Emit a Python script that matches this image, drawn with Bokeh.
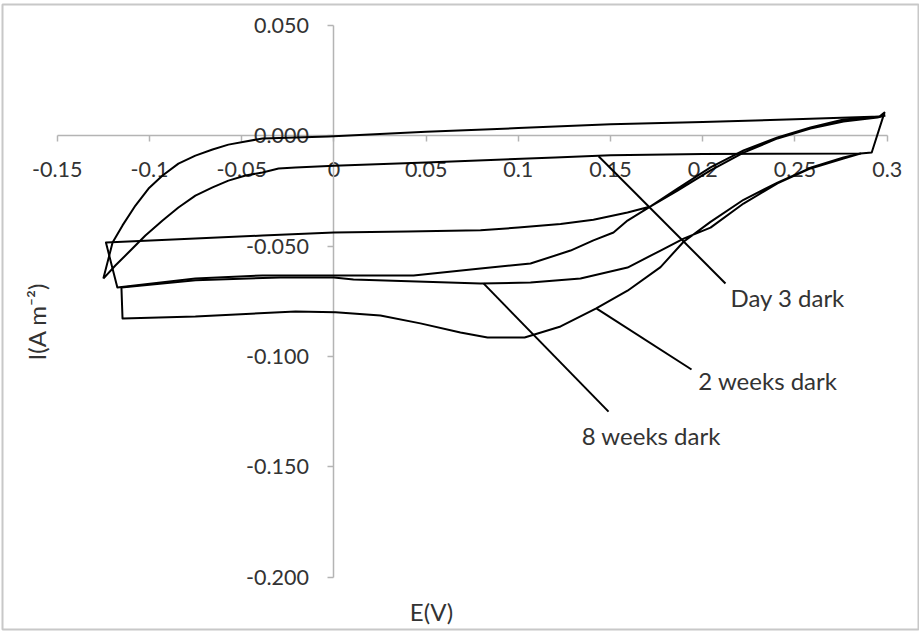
import math
from bokeh.plotting import figure
from bokeh.models import FixedTicker, Label
from bokeh.embed import file_html
from bokeh.resources import INLINE

# ---------------- data (E in V, I in A m-2) ----------------
e_day3 = [-0.1250, -0.1200, -0.1146, -0.1076, -0.1005, -0.0929, -0.0843, -0.0751, -0.0658,
          -0.0572, -0.0479, -0.0387, -0.0208, -0.0029, 0.0500, 0.1000, 0.1500, 0.2000,
          0.2500, 0.2960, 0.2985, 0.2916, 0.2855, 0.2000, 0.1500, 0.1200, 0.0500, 0.0000,
          -0.0208, -0.0300, -0.0387, -0.0479, -0.0572, -0.0658, -0.0751, -0.0843, -0.0929,
          -0.1022, -0.1114, -0.1185, -0.1250]
i_day3 = [-0.0647, -0.0484, -0.0406, -0.0316, -0.0239, -0.0180, -0.0126, -0.0090, -0.0062,
          -0.0040, -0.0026, -0.0012, -0.0008, -0.0003, 0.0018, 0.0035, 0.0052, 0.0063,
          0.0075, 0.0088, 0.0105, -0.0076, -0.0080, -0.0082, -0.0088, -0.0098, -0.0121, -0.0136,
          -0.0144, -0.0148, -0.0166, -0.0180, -0.0203, -0.0234, -0.0271, -0.0325, -0.0384,
          -0.0452, -0.0529, -0.0588, -0.0647]

e_2wk = [0.2990, 0.2947, 0.2763, 0.2584, 0.2405, 0.2221, 0.2042, 0.1863, 0.1717, 0.1592,
         0.1407, 0.1229, 0.1000, 0.0795, 0.0400, 0.0000, -0.0387, -0.0751, -0.1236, -0.1174,
         -0.0751, -0.0387, 0.0000, 0.0432, 0.0795, 0.1066, 0.1283, 0.1407, 0.1516, 0.1592,
         0.1717, 0.1863, 0.2042, 0.2221, 0.2405, 0.2584, 0.2763, 0.2964, 0.2990]
i_2wk = [0.0092, 0.0083, 0.0065, 0.0033, -0.0012, -0.0076, -0.0157, -0.0248, -0.0320, -0.0348,
         -0.0380, -0.0400, -0.0416, -0.0428, -0.0434, -0.0438, -0.0452, -0.0465, -0.0484, -0.0688,
         -0.0647, -0.0633, -0.0633, -0.0633, -0.0601, -0.0579, -0.0520, -0.0474, -0.0438, -0.0384,
         -0.0320, -0.0239, -0.0143, -0.0066, -0.0007, 0.0038, 0.0074, 0.0087, 0.0092]

e_8wk = [-0.1152, -0.0750, -0.0289, 0.0000, 0.0106, 0.0795, 0.1066, 0.1337, 0.1592, 0.1771,
         0.1896, 0.2042, 0.2221, 0.2405, 0.2584, 0.2763, 0.2855, 0.2763, 0.2584, 0.2405,
         0.2221, 0.2042, 0.1896, 0.1771, 0.1592, 0.1420, 0.1229, 0.1034, 0.0833, 0.0686,
         0.0469, 0.0252, 0.0009, -0.0208, -0.0751, -0.1146, -0.1152]
i_8wk = [-0.0687, -0.0655, -0.0642, -0.0642, -0.0651, -0.0669, -0.0665, -0.0647, -0.0597, -0.0520,
         -0.0466, -0.0416, -0.0307, -0.0216, -0.0148, -0.0103, -0.0080, -0.0098, -0.0145, -0.0212,
         -0.0290, -0.0390, -0.0480, -0.0595, -0.0702, -0.0783, -0.0864, -0.0914, -0.0914, -0.0891,
         -0.0850, -0.0814, -0.0800, -0.0796, -0.0819, -0.0828, -0.0687]

x_ticks = [-0.15, -0.1, -0.05, 0.0, 0.05, 0.1, 0.15, 0.2, 0.25, 0.3]
x_tick_labels = ["-0.15", "-0.1", "-0.05", "0", "0.05", "0.1", "0.15", "0.2", "0.25", "0.3"]
y_ticks = [0.05, 0.0, -0.05, -0.1, -0.15, -0.2]
y_tick_labels = ["0.050", "0.000", "-0.050", "-0.100", "-0.150", "-0.200"]

series_names = ["Day 3 dark", "2 weeks dark", "8 weeks dark"]
# callout leader lines: (from point on curve) -> (near label), and label anchor (left, baseline)
callout_from = [(0.1435, -0.0093), (0.1425, -0.0783), (0.0811, -0.0669)]
callout_to = [(0.2123, -0.0669), (0.1939, -0.1059), (0.1489, -0.1250)]
callout_text_at = [(0.2150, -0.0733), (0.1976, -0.1109), (0.1344, -0.1358)]

# ---------------- figure ----------------
FONT = "Lato"
TXT = "#333333"
AX = "#b4b4b4"

p = figure(width=919, height=631, output_backend="svg", toolbar_location=None,
           x_range=(-0.17968, 0.31696), y_range=(-0.22373, 0.05950),
           min_border_left=2, min_border_right=1, min_border_top=4, min_border_bottom=2)
p.background_fill_color = "white"
p.border_fill_color = "white"
p.outline_line_color = "#c8c8c8"
p.outline_line_width = 2
p.xgrid.visible = False
p.ygrid.visible = False

for ax, ticks, labels in ((p.xaxis[0], x_ticks, x_tick_labels), (p.yaxis[0], y_ticks, y_tick_labels)):
    ax.fixed_location = 0
    ax.ticker = FixedTicker(ticks=ticks)
    ax.major_label_overrides = {t: l for t, l in zip(ticks, labels)}
    ax.minor_tick_line_color = None
    ax.major_tick_in = 0
    ax.major_tick_out = 6
    ax.axis_line_color = AX
    ax.major_tick_line_color = AX
    ax.axis_line_width = 1.5
    ax.major_tick_line_width = 1.5
    ax.major_label_text_font = FONT
    ax.major_label_text_font_size = "21.5px"
    ax.major_label_text_color = TXT
    ax.level = "underlay"

p.xaxis.bounds = (x_ticks[0], x_ticks[-1])
p.yaxis.bounds = (y_ticks[-1], y_ticks[0])
p.xaxis.major_label_standoff = 20
p.yaxis.major_label_standoff = 19

for ex, iy in ((e_day3, i_day3), (e_2wk, i_2wk), (e_8wk, i_8wk)):
    p.line(ex, iy, line_color="black", line_width=2, line_join="round")

p.segment(x0=[a[0] for a in callout_from], y0=[a[1] for a in callout_from],
          x1=[b[0] for b in callout_to], y1=[b[1] for b in callout_to],
          line_color="black", line_width=2)

for name, (tx, ty) in zip(series_names, callout_text_at):
    p.add_layout(Label(x=tx, y=ty, text=name, text_font=FONT, text_font_size="24px",
                       text_color=TXT, text_baseline="alphabetic", text_align="left"))

p.add_layout(Label(x=0.0529, y=-0.2156, text="E(V)", text_font=FONT, text_font_size="24px",
                   text_color=TXT, text_baseline="alphabetic", text_align="center"))
p.add_layout(Label(x=-0.1612, y=-0.0842, text="I(A m\u207b\u00b2)", text_font=FONT,
                   text_font_size="24px", text_color=TXT, angle=math.pi / 2,
                   text_baseline="alphabetic", text_align="center"))

open("out.html", "w").write(file_html(p, INLINE))
